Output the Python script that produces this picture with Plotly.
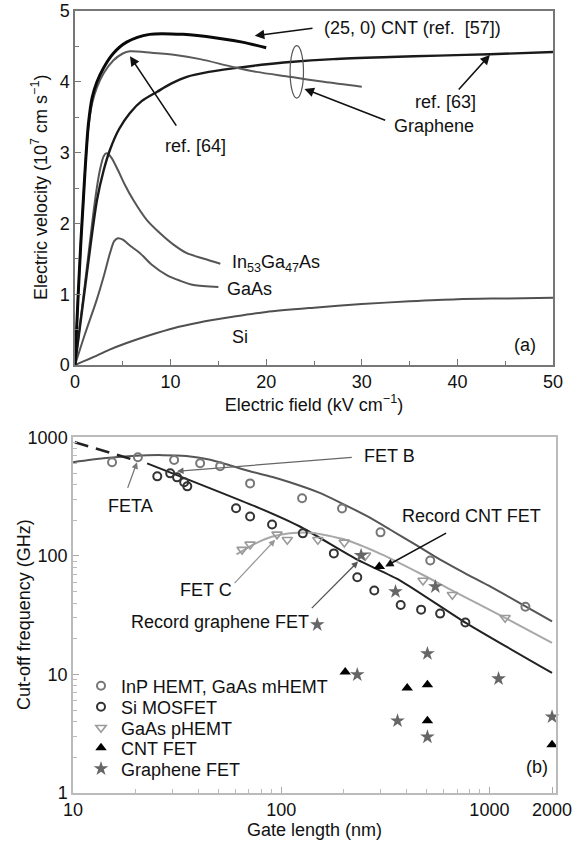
import numpy as np
import plotly.graph_objects as go

# ---------------- Panel (a): velocity vs field ----------------
cnt_x = [0, 0.3, 0.6, 0.87, 1.1, 1.4, 1.8, 2.3, 3.0, 4.0, 5.4, 7.8, 11.3, 14.8, 17.5, 20]
cnt_y = [0, 0.9, 1.7, 2.33, 2.85, 3.4, 3.78, 4.0, 4.2, 4.4, 4.56, 4.67, 4.67, 4.62, 4.56, 4.48]

gr64_x = [0, 0.3, 0.6, 0.87, 1.1, 1.4, 1.8, 2.3, 3.0, 4.0, 5.0, 5.75, 8, 10.5, 13.1, 16.5, 19, 22.5, 26, 30]
gr64_y = [0, 0.9, 1.7, 2.33, 2.85, 3.35, 3.7, 3.92, 4.12, 4.3, 4.4, 4.43, 4.41, 4.38, 4.32, 4.21, 4.14, 4.07, 4.0, 3.93]

gr63_x = [0, 1.2, 2.3, 3.0, 3.66, 4.6, 5.75, 7, 8.6, 10, 11.7, 14, 16.5, 19.5, 22.5, 27, 33, 38, 43.4, 50]
gr63_y = [0, 1.25, 2.33, 2.75, 3.04, 3.33, 3.56, 3.73, 3.86, 3.97, 4.07, 4.14, 4.19, 4.24, 4.28, 4.32, 4.35, 4.37, 4.39, 4.42]

ingaas_x = [0, 1, 2.1, 2.6, 3.0, 3.3, 3.8, 4.5, 5.2, 6.1, 7.5, 8.9, 10.3, 11.7, 13.5, 15.2]
ingaas_y = [0, 1.1, 2.33, 2.75, 2.95, 2.99, 2.93, 2.75, 2.55, 2.33, 2.05, 1.86, 1.7, 1.58, 1.5, 1.43]

gaas_x = [0, 1, 2.27, 3, 3.66, 4.1, 4.5, 5, 5.8, 6.8, 8, 9.6, 11, 12.4, 15]
gaas_y = [0, 0.42, 0.92, 1.25, 1.58, 1.75, 1.79, 1.77, 1.68, 1.58, 1.42, 1.27, 1.19, 1.13, 1.10]

si_x = [0, 1.9, 3.5, 5.4, 7.8, 10.3, 13, 16.5, 20, 25, 30, 35, 40, 45, 50]
si_y = [0, 0.11, 0.21, 0.31, 0.42, 0.52, 0.6, 0.68, 0.75, 0.81, 0.86, 0.9, 0.93, 0.94, 0.95]

# ---------------- Panel (b): cut-off frequency vs gate length ----------------
inp_x = [15.4, 20.5, 30.6, 40.8, 50.9, 70.9, 126, 196, 300, 520, 1490]
inp_y = [617, 680, 645, 604, 570, 409, 306, 251, 158, 91.5, 37.3]

mos_x = [25.4, 29.3, 31.6, 34.2, 35.4, 60.7, 70.9, 90.4, 127, 179, 232, 280, 375, 470, 580, 767]
mos_y = [469, 497, 460, 418, 386, 252, 215, 184, 155, 105, 66, 51, 38.5, 35.2, 32.6, 27.4]

phemt_x = [64.9, 70.9, 95.5, 107, 150, 201, 254, 480, 664, 1190]
phemt_y = [113, 125, 152, 137, 137, 130, 101, 62, 47, 30.1]

cntfet_x = [296, 203, 403, 504, 504, 2000]
cntfet_y = [81.4, 10.5, 7.7, 8.2, 4.06, 2.55]

grfet_x = [149, 242, 354, 550, 232, 504, 362, 504, 1107, 2000]
grfet_y = [26.3, 101, 50, 55, 9.95, 15, 4.06, 2.97, 9.2, 4.39]

hemt_line_x = [10, 14, 20, 27, 35, 45, 55, 70, 90, 110, 150, 192, 260, 333, 450, 580, 780, 1013, 1400, 2000]
hemt_line_y = [617, 665, 700, 708, 695, 650, 590, 520, 465, 418, 345, 282, 215, 167, 122, 93, 70, 55, 40, 28]

mos_line_x = [22.7, 79, 123, 232, 373, 767, 2000]
mos_line_y = [604, 252, 177, 93, 62, 27.4, 10.3]

dash_line_x = [10.2, 20.5]
dash_line_y = [910, 630]

phemt_line_x = [61, 75, 90, 110, 140, 200, 300, 480, 664, 1190, 2000]
phemt_line_y = [103, 127, 145, 155, 157, 138, 104, 69, 51, 30, 18.5]

legend_names = ["InP HEMT, GaAs mHEMT", "Si MOSFET", "GaAs pHEMT", "CNT FET", "Graphene FET"]

FONT = "Liberation Sans, Arial, sans-serif"
FS = 18

# plot-area geometry (pixels) used to place paper-referenced items
ML, MR, MT, MB = 73, 24, 11, 48
PW, PH = 580 - ML - MR, 841 - MT - MB
def px_x(p):
    return (p - ML) / PW
def px_y(p):
    return (841 - MB - p) / PH

fig = go.Figure()

def line_a(x, y, color, width):
    fig.add_trace(go.Scatter(x=x, y=y, mode="lines", showlegend=False, hoverinfo="skip",
                             line=dict(color=color, width=width, shape="spline", smoothing=0.8),
                             xaxis="x", yaxis="y"))

line_a(si_x, si_y, "#505050", 2)
line_a(gaas_x, gaas_y, "#555555", 2)
line_a(ingaas_x, ingaas_y, "#555555", 2)
line_a(gr63_x, gr63_y, "#1a1a1a", 2.4)
line_a(gr64_x, gr64_y, "#5a5a5a", 2)
line_a(cnt_x, cnt_y, "#0a0a0a", 3)

def line_b(x, y, color, width, dash="solid"):
    fig.add_trace(go.Scatter(x=x, y=y, mode="lines", showlegend=False, hoverinfo="skip",
                             line=dict(color=color, width=width, dash=dash, shape="spline", smoothing=0.6),
                             xaxis="x2", yaxis="y2"))

line_b(hemt_line_x, hemt_line_y, "#555555", 2)
line_b(mos_line_x, mos_line_y, "#222222", 2)
line_b(phemt_line_x, phemt_line_y, "#a8a8a8", 2)
line_b(dash_line_x, dash_line_y, "#222222", 2.6, dash="14px,8px")

series = [
    (inp_x, inp_y, "circle-open", "#777777", 8, 2),
    (mos_x, mos_y, "circle-open", "#333333", 8, 2),
    (phemt_x, phemt_y, "triangle-down-open", "#9a9a9a", 9, 1.6),
    (cntfet_x, cntfet_y, "triangle-up", "#000000", 10, 0),
    (grfet_x, grfet_y, "star", "#666666", 11, 0),
]
legend_rows = [686, 707, 728, 748, 769]
legend_layouts = {}
for i, ((x, y, sym, col, sz, lw), name) in enumerate(zip(series, legend_names)):
    key = "legend" if i == 0 else f"legend{i + 1}"
    fig.add_trace(go.Scatter(x=x, y=y, mode="markers", name=name, cliponaxis=False,
                             legend=key,
                             marker=dict(symbol=sym, color=col, size=sz, line=dict(color=col, width=lw)),
                             xaxis="x2", yaxis="y2"))
    legend_layouts[key] = dict(x=px_x(81), y=px_y(legend_rows[i]), xanchor="left", yanchor="middle",
                               bgcolor="rgba(0,0,0,0)", borderwidth=0,
                               font=dict(family=FONT, size=FS, color="#111"), itemwidth=30)

ann = []
def txt(x, y, s, xref="x", yref="y", xanchor="center", size=FS, angle=0):
    ann.append(dict(x=x, y=y, xref=xref, yref=yref, text=s, showarrow=False, textangle=angle,
                    xanchor=xanchor, yanchor="middle", font=dict(family=FONT, size=size, color="#111")))

def arr(x, y, ax, ay, xref="x", yref="y", color="#111", width=1.6, head=2, size=1.2):
    ann.append(dict(x=x, y=y, ax=ax, ay=ay, xref=xref, yref=yref, axref=xref, ayref=yref,
                    text="", showarrow=True, arrowhead=head, arrowsize=size, arrowwidth=width,
                    arrowcolor=color, standoff=0, startstandoff=0))

# panel (a) labels
txt(35.3, 4.76, "(25, 0) CNT (ref.  [57])")
arr(18.8, 4.65, 25.0, 4.76)
txt(12.6, 3.1, "ref. [64]")
arr(5.75, 4.36, 10.7, 3.36)
txt(38.8, 3.72, "ref. [63]")
arr(43.4, 4.38, 40.0, 3.87)
txt(37.5, 3.37, "Graphene")
arr(24.0, 3.9, 32.6, 3.45)
txt(16.2, 1.44, "In<sub>53</sub>Ga<sub>47</sub>As", xanchor="left")
txt(15.7, 1.07, "GaAs", xanchor="left")
txt(16.2, 0.40, "Si", xanchor="left")
txt(48.4, 0.28, "(a)", xanchor="right")

# panel (b) labels (log axes -> log10 coordinates)
L = np.log10
txt(L(245), L(692), "FET B", xref="x2", yref="y2", xanchor="left")
arr(L(31.6), L(517), L(222), L(679), xref="x2", yref="y2", color="#666", width=1.3, size=1)
txt(L(18.8), L(262), "FETA", xref="x2", yref="y2")
arr(L(20.3), L(617), L(18.2), L(364), xref="x2", yref="y2", color="#777", width=1.3, size=1)
txt(L(43.6), L(52), "FET C", xref="x2", yref="y2")
arr(L(93.6), L(137), L(58.8), L(57.3), xref="x2", yref="y2", color="#999", width=1.3, size=1)
txt(L(50.9), L(27.9), "Record graphene FET", xref="x2", yref="y2")
arr(L(234), L(89.7), L(138), L(35.2), xref="x2", yref="y2", color="#555", width=1.3, size=1)
txt(L(823), L(215), "Record CNT FET", xref="x2", yref="y2")
arr(L(316), L(81.4), L(630), L(158), xref="x2", yref="y2", color="#111", width=1.5, size=1.1)
txt(L(1960), L(1.66), "(b)", xref="x2", yref="y2", xanchor="right")

# y-axis titles
txt(px_x(40), px_y(188), "Electric velocity (10<sup>7</sup> cm s<sup>−1</sup>)", xref="paper", yref="paper", angle=-90)
txt(px_x(24), px_y(615), "Cut-off frequency (GHz)", xref="paper", yref="paper", angle=-90)

shapes = [dict(type="circle", xref="x", yref="y", x0=22.5, x1=23.9, y0=3.77, y1=4.51,
               line=dict(color="#555", width=1.2))]

axis_common = dict(showgrid=False, zeroline=False, showline=True, mirror=True, ticks="inside",
                   automargin=False, tickfont=dict(family=FONT, size=FS, color="#111"))

fig.update_layout(
    width=580, height=841,
    margin=dict(l=ML, r=MR, t=MT, b=MB),
    paper_bgcolor="white", plot_bgcolor="white",
    font=dict(family=FONT, size=FS, color="#111"),
    annotations=ann, shapes=shapes,
    xaxis=dict(domain=[px_x(75), px_x(553)], range=[0, 50], anchor="y", linecolor="#777", linewidth=1.5,
               tickvals=[0, 10, 20, 30, 40, 50], ticklen=6, tickcolor="#777",
               minor=dict(ticks="inside", ticklen=4, tickcolor="#777", tickvals=[5, 15, 25, 35, 45]),
               title=dict(text="Electric field (kV cm<sup>−1</sup>)", font=dict(family=FONT, size=FS), standoff=2),
               **axis_common),
    yaxis=dict(domain=[px_y(365), px_y(11)], range=[0, 5], anchor="x", linecolor="#777", linewidth=1.5,
               tickvals=[0, 1, 2, 3, 4, 5], ticklen=6, tickcolor="#777",
               minor=dict(ticks="inside", ticklen=4, tickcolor="#777", tickvals=[0.5, 1.5, 2.5, 3.5, 4.5]),
               **axis_common),
    xaxis2=dict(domain=[0, 1], type="log", range=[1, 3.32], anchor="y2", linecolor="#bbb", linewidth=1.5,
                tickvals=[10, 100, 1000, 2000], ticktext=["10", "100", "1000", "2000"], ticklen=6, tickcolor="#aaa",
                minor=dict(ticks="inside", ticklen=4, tickcolor="#bbb",
                           tickvals=[20, 30, 40, 50, 60, 70, 80, 90, 200, 300, 400, 500, 600, 700, 800, 900]),
                title=dict(text="Gate length (nm)", font=dict(family=FONT, size=FS), standoff=2),
                **axis_common),
    yaxis2=dict(domain=[0, px_y(437)], type="log", range=[0, 3.003], anchor="x2", linecolor="#bbb", linewidth=1.5,
                tickvals=[1, 10, 100, 1000], ticktext=["1", "10", "100", "1000"], ticklen=6, tickcolor="#aaa",
                minor=dict(ticks="inside", ticklen=4, tickcolor="#bbb",
                           tickvals=[m * 10 ** d for d in range(3) for m in range(2, 10)]),
                **axis_common),
    **legend_layouts,
)

fig.write_html("out.html")
